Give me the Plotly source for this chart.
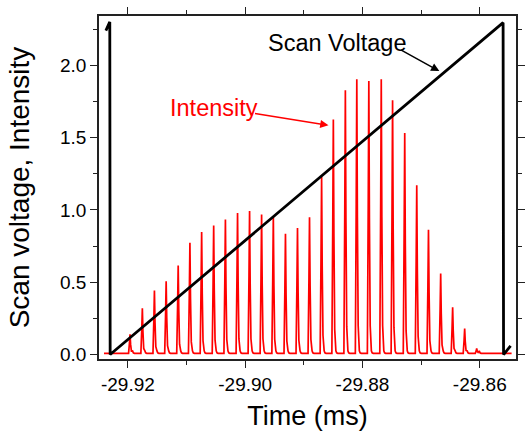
import numpy as np
import plotly.graph_objects as go

# ---------------- data ----------------
# Scan voltage (black): key points of the sawtooth ramp (time in ms, value)
volt_time = [-29.92375, -29.92308, -29.92302, -29.91000, -29.90000, -29.89000,
             -29.88000, -29.87000, -29.86200, -29.85800, -29.85603, -29.85595, -29.85475]
volt_value = [2.24, 2.30, 0.00, 0.447, 0.790, 1.133,
              1.475, 1.818, 2.090, 2.232, 2.295, 0.00, 0.06]

# Intensity (red): peak times and peak heights
peak_time = [-29.91963, -29.91753, -29.91547, -29.91347, -29.91142, -29.90942,
             -29.90742, -29.90537, -29.90337, -29.90130, -29.89925, -29.89720,
             -29.89520, -29.89313, -29.89108, -29.88903, -29.88697, -29.88497,
             -29.88292, -29.88097, -29.87892, -29.87680, -29.87487, -29.87280,
             -29.87075, -29.86875, -29.86667, -29.86463, -29.86258, -29.86053]
peak_height = [0.14, 0.32, 0.443, 0.507, 0.616, 0.773, 0.847, 0.893, 0.934, 0.978,
               0.992, 0.969, 0.955, 0.835, 0.874, 0.950, 1.227, 1.626, 1.827, 1.903,
               1.891, 1.903, 1.758, 1.532, 1.17, 0.863, 0.56, 0.327, 0.18, 0.042]
baseline_start = -29.92407
baseline_end = -29.85458
baseline_level = 0.008

# axis ticks
x_tickvals = [-29.92, -29.90, -29.88, -29.86]
x_ticktext = ["-29.92", "-29.90", "-29.88", "-29.86"]
y_tickvals = [0.0, 0.5, 1.0, 1.5, 2.0]
y_ticktext = ["0.0", "0.5", "1.0", "1.5", "2.0"]

# ---------------- build the intensity trace ----------------
px = 1.0 / 6000.0  # one pixel in time units (display detail of a peak's shape)
shape_dx = [-1.5, -0.6, 0.0, 0.6, 1.4, 2.6, 3.4, 4.5]
shape_f = [0.0, 0.55, 1.0, 0.5, 0.1, 0.0, 0.0, 0.0]
shape_add = [baseline_level, 0, 0, 0, 0.01, 0.025, 0.012, baseline_level]

ix = [baseline_start]
iy = [baseline_level]
for t, h in zip(peak_time, peak_height):
    for dx, f, a in zip(shape_dx, shape_f, shape_add):
        ix.append(t + dx * px)
        iy.append(h * f + a)
ix.append(baseline_end)
iy.append(baseline_level)

FONT = "Liberation Sans, Arial, sans-serif"

fig = go.Figure()
fig.add_trace(go.Scatter(x=ix, y=iy, mode="lines",
                         line=dict(color="#ff0000", width=1.7), hoverinfo="skip"))
fig.add_trace(go.Scatter(x=volt_time, y=volt_value, mode="lines",
                         line=dict(color="#000000", width=2.8), hoverinfo="skip"))

fig.update_layout(
    width=530, height=431,
    margin=dict(l=99, r=5, t=16, b=72),
    paper_bgcolor="white", plot_bgcolor="white",
    showlegend=False,
    font=dict(family=FONT, color="black"),
)
fig.update_xaxes(
    range=[-29.92492, -29.85383],
    tickvals=x_tickvals, ticktext=x_ticktext,
    ticks="outside", ticklen=7, tickwidth=1.3, tickcolor="#222",
    minor=dict(dtick=0.01, tick0=-29.92, ticks="outside", ticklen=4, tickwidth=1.3, tickcolor="#222"),
    showline=True, linecolor="#222", linewidth=1.5, mirror="allticks",
    showgrid=False, zeroline=False,
    tickfont=dict(size=19, family=FONT),
    title=dict(text="Time (ms)", font=dict(size=27, family=FONT), standoff=13),
)
fig.update_yaxes(
    range=[-0.031, 2.341],
    tickvals=y_tickvals, ticktext=y_ticktext,
    ticks="outside", ticklen=7, tickwidth=1.3, tickcolor="#222",
    minor=dict(dtick=0.25, tick0=0, ticks="outside", ticklen=4, tickwidth=1.3, tickcolor="#222"),
    showline=True, linecolor="#222", linewidth=1.5, mirror="allticks",
    showgrid=False, zeroline=False,
    tickfont=dict(size=19, family=FONT),
    title=dict(text="Scan voltage, Intensity", font=dict(size=28, family=FONT), standoff=22),
)

# labels with arrows
fig.add_annotation(x=-29.88433, y=2.152, text="Scan Voltage", showarrow=False,
                   font=dict(size=23.5, color="black", family=FONT))
fig.add_annotation(x=-29.86690, y=1.960, ax=-40, ay=-22, text="", showarrow=True,
                   arrowhead=2, arrowsize=1.1, arrowwidth=1.5, arrowcolor="black")
fig.add_annotation(x=-29.90533, y=1.702, text="Intensity", showarrow=False,
                   font=dict(size=23.5, color="#ff0000", family=FONT))
fig.add_annotation(x=-29.88580, y=1.585, ax=-75, ay=-12, text="", showarrow=True,
                   arrowhead=2, arrowsize=1.1, arrowwidth=1.5, arrowcolor="#ff0000")

fig.write_html(
    "out.html",
    config={"displayModeBar": False},
    post_script="document.body.style.margin='0px';document.body.style.padding='0px';"
                "document.body.style.overflow='hidden';",
)
